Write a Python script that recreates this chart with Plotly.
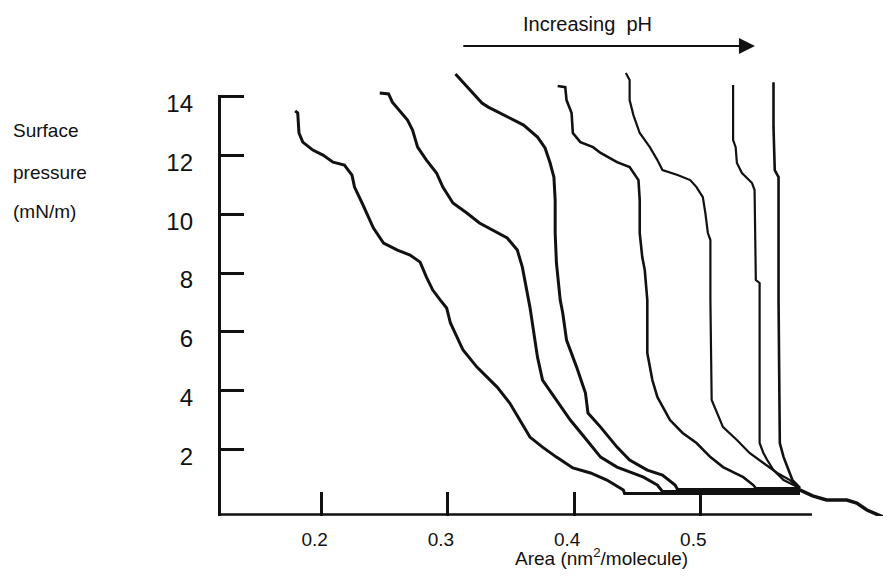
import plotly.graph_objects as go

FONT = "Arial, 'Liberation Sans', Helvetica, sans-serif"

# ---- data (area in nm^2/molecule, pressure in mN/m) ----
C1_X = [0.179, 0.181, 0.182, 0.185, 0.193, 0.201, 0.209, 0.218, 0.224, 0.226, 0.232, 0.237,
        0.241, 0.249, 0.260, 0.270, 0.278, 0.283, 0.288, 0.294, 0.299, 0.302, 0.307, 0.312,
        0.323, 0.333, 0.339, 0.349, 0.357, 0.365, 0.375, 0.386, 0.399, 0.413, 0.426, 0.439,
        0.440, 0.579]
C1_Y = [13.51, 13.44, 12.76, 12.45, 12.18, 12.01, 11.77, 11.67, 11.33, 10.92, 10.38, 9.90,
        9.53, 9.02, 8.78, 8.61, 8.37, 7.86, 7.42, 7.08, 6.81, 6.30, 5.82, 5.38,
        4.80, 4.36, 4.12, 3.58, 3.00, 2.42, 2.08, 1.74, 1.37, 1.20, 0.96, 0.62,
        0.50, 0.50]

C2_X = [0.246, 0.253, 0.256, 0.268, 0.272, 0.276, 0.283, 0.291, 0.296, 0.304, 0.315, 0.325,
        0.347, 0.355, 0.359, 0.363, 0.365, 0.371, 0.375, 0.386, 0.397, 0.410, 0.421, 0.434,
        0.455, 0.466, 0.470, 0.579]
C2_Y = [14.12, 14.09, 13.81, 13.20, 12.86, 12.28, 11.84, 11.40, 10.92, 10.38, 10.04, 9.70,
        9.19, 8.78, 8.20, 7.32, 6.84, 5.14, 4.36, 3.68, 3.00, 2.32, 1.74, 1.40,
        1.06, 0.79, 0.57, 0.57]

C3_X = [0.306, 0.327, 0.332, 0.348, 0.360, 0.371, 0.377, 0.381, 0.384, 0.385, 0.385, 0.386,
        0.387, 0.389, 0.391, 0.394, 0.402, 0.409, 0.411, 0.421, 0.434, 0.444, 0.458, 0.470,
        0.480, 0.482, 0.579]
C3_Y = [14.77, 13.78, 13.64, 13.30, 13.03, 12.62, 12.25, 11.74, 11.26, 10.48, 9.36, 8.34,
        7.86, 7.08, 6.64, 5.72, 4.80, 3.92, 3.24, 2.76, 2.08, 1.64, 1.30, 1.13,
        0.79, 0.64, 0.64]

C4_X = [0.387, 0.393, 0.394, 0.398, 0.399, 0.405, 0.415, 0.421, 0.434, 0.444, 0.451, 0.452,
        0.452, 0.454, 0.456, 0.458, 0.458, 0.460, 0.462, 0.466, 0.476, 0.486, 0.497, 0.508,
        0.518, 0.534, 0.542, 0.544, 0.579]
C4_Y = [14.36, 14.32, 13.88, 13.44, 12.76, 12.45, 12.28, 12.08, 11.77, 11.60, 11.16, 10.48,
        9.36, 8.54, 8.10, 7.08, 5.28, 4.80, 4.36, 3.78, 3.00, 2.56, 2.22, 1.74,
        1.40, 1.06, 0.79, 0.68, 0.68]

C5_X = [0.441, 0.444, 0.444, 0.447, 0.452, 0.460, 0.466, 0.470, 0.482, 0.492, 0.497, 0.502,
        0.504, 0.506, 0.508, 0.508, 0.509, 0.513, 0.518, 0.529, 0.539, 0.550, 0.561, 0.571,
        0.577, 0.579]
C5_Y = [14.80, 14.56, 13.88, 13.37, 12.76, 12.28, 11.84, 11.50, 11.33, 11.16, 10.92, 10.58,
        10.04, 9.36, 9.12, 7.08, 3.68, 3.24, 2.76, 2.32, 1.88, 1.54, 1.20, 0.96,
        0.72, 0.69]

C6_X = [0.526, 0.526, 0.528, 0.529, 0.533, 0.541, 0.543, 0.544, 0.547, 0.547, 0.550, 0.553,
        0.558, 0.566, 0.577, 0.579]
C6_Y = [14.39, 12.52, 12.28, 11.74, 11.40, 11.06, 10.82, 7.76, 7.66, 2.22, 1.88, 1.64,
        1.30, 0.96, 0.72, 0.69]

C7_X = [0.558, 0.558, 0.559, 0.562, 0.562, 0.563, 0.566, 0.569, 0.573, 0.579]
C7_Y = [14.49, 12.96, 11.50, 11.26, 7.08, 2.22, 1.74, 1.40, 0.96, 0.69]

TAIL_X = [0.577, 0.583, 0.589, 0.600, 0.616, 0.624, 0.632, 0.645]
TAIL_Y = [0.66, 0.55, 0.42, 0.28, 0.28, 0.18, -0.06, -0.30]

X_TICKS = [0.2, 0.3, 0.4, 0.5]
X_TICK_TEXT = ["0.2", "0.3", "0.4", "0.5"]
Y_TICKS = [2, 4, 6, 8, 10, 12, 14]
Y_TICK_TEXT = ["2", "4", "6", "8", "10", "12", "14"]

# ---- view / axis geometry ----
X_RANGE = [0.11783, 0.64477]
Y_RANGE = [-0.2625, 17.2826]
Y_AXIS_X = 0.1190
Y_AXIS_TOP = 14.0
X_AXIS_Y = -0.2115
X_AXIS_END = 0.5885

curves = [
    (C1_X, C1_Y, 3.0),
    (C2_X, C2_Y, 3.0),
    (C3_X, C3_Y, 3.0),
    (C4_X, C4_Y, 2.6),
    (C5_X, C5_Y, 2.2),
    (C6_X, C6_Y, 2.2),
    (C7_X, C7_Y, 2.6),
    (TAIL_X, TAIL_Y, 3.5),
]

fig = go.Figure()
for xs, ys, w in curves:
    fig.add_trace(go.Scatter(x=xs, y=ys, mode="lines",
                             line=dict(color="#111111", width=w),
                             showlegend=False, hoverinfo="skip"))

# axis lines
fig.add_shape(type="line", xref="x", yref="y", x0=Y_AXIS_X, x1=Y_AXIS_X,
              y0=Y_RANGE[0], y1=Y_AXIS_TOP, line=dict(color="#111111", width=3))
fig.add_shape(type="line", xref="x", yref="y", x0=Y_AXIS_X, x1=X_AXIS_END,
              y0=X_AXIS_Y, y1=X_AXIS_Y, line=dict(color="#111111", width=2.5))

# arrow + labels
fig.add_annotation(x=0.5433, y=15.72, ax=0.311, ay=15.72, xref="x", yref="y",
                   axref="x", ayref="y", text="", showarrow=True, arrowhead=2,
                   arrowsize=1.6, arrowwidth=2, arrowcolor="#111111")
fig.add_annotation(x=0.411, y=16.47, xref="x", yref="y", text="Increasing\u00a0\u00a0pH",
                   xanchor="center", yanchor="middle", showarrow=False,
                   font=dict(family=FONT, size=20, color="#111111"))
fig.add_annotation(x=0.422, y=-0.0795, xref="x", yref="paper",
                   text="Area (nm<sup>2</sup>/molecule)", showarrow=False,
                   xanchor="center", yanchor="middle",
                   font=dict(family=FONT, size=19, color="#111111"))
for txt, yp in [("Surface", 0.748), ("pressure", 0.6665), ("(mN/m)", 0.591)]:
    fig.add_annotation(x=-0.3113, y=yp, xref="paper", yref="paper", text=txt,
                       xanchor="left", yanchor="middle", showarrow=False,
                       font=dict(family=FONT, size=19, color="#111111"))

fig.update_layout(
    width=883, height=584,
    margin=dict(l=218, r=0, t=0, b=68),
    paper_bgcolor="white", plot_bgcolor="white",
    showlegend=False,
    xaxis=dict(range=X_RANGE, showgrid=False, zeroline=False, showline=False,
               tickmode="array", tickvals=X_TICKS, ticktext=X_TICK_TEXT,
               ticks="inside", ticklen=24, tickwidth=2.5, tickcolor="#111111",
               tickfont=dict(family=FONT, size=19, color="#111111"),
               ticklabelstandoff=10, ticklabelshift=-7, fixedrange=True),
    yaxis=dict(range=Y_RANGE, showgrid=False, zeroline=False, showline=False,
               tickmode="array", tickvals=Y_TICKS, ticktext=Y_TICK_TEXT,
               ticks="inside", ticklen=26, tickwidth=2.5, tickcolor="#111111",
               tickfont=dict(family=FONT, size=24, color="#111111"),
               ticklabelstandoff=24, ticklabelshift=7, fixedrange=True),
)

fig.write_html("out.html")
